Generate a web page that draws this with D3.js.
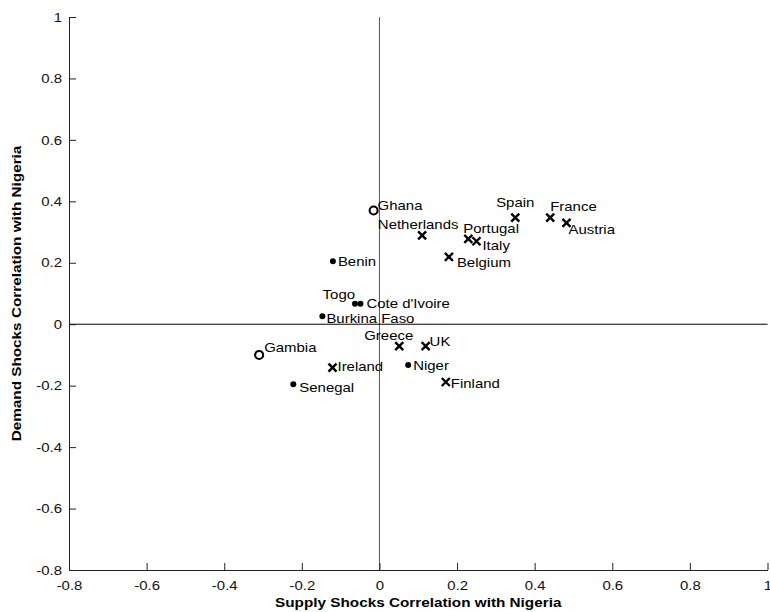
<!DOCTYPE html>
<html>
<head>
<meta charset="utf-8" />
<title>Shock correlations</title>
<script src="https://cdn.jsdelivr.net/npm/d3@7"></script>
<style>
body { margin: 0; background: #fff; }
text { font-family: "Liberation Sans", Arial, sans-serif; fill: #000; }
.tick text { font-size: 13px; fill: #111; }
.axis-title { font-size: 13.3px; font-weight: bold; }
.lbl { font-size: 13px; }
</style>
</head>
<body>
<div id="chart"></div>
<script>
// country names, supply corr (x), demand corr (y), marker type
var countries = ["Ghana", "Gambia", "Benin", "Togo", "Cote d'Ivoire", "Burkina Faso", "Senegal", "Niger",
                 "Netherlands", "Spain", "France", "Austria", "Portugal", "Italy", "Belgium", "Greece", "UK", "Ireland", "Finland"];
var supply = [-0.015, -0.31, -0.12, -0.063, -0.049, -0.147, -0.222, 0.074,
              0.11, 0.35, 0.44, 0.482, 0.229, 0.25, 0.179, 0.051, 0.119, -0.121, 0.171];
var demand = [0.37, -0.10, 0.205, 0.067, 0.067, 0.026, -0.195, -0.133,
              0.289, 0.347, 0.347, 0.33, 0.278, 0.27, 0.219, -0.071, -0.071, -0.141, -0.188];
var markers = ["open", "open", "dot", "dot", "dot", "dot", "dot", "dot",
               "cross", "cross", "cross", "cross", "cross", "cross", "cross", "cross", "cross", "cross", "cross"];
// label placement: dx, dy (px) and anchor
var labelPos = [
  [4, -5, "start"], [5, -7, "start"], [5, 0, "start"], [0, -9, "end"], [6, 0, "start"], [4, 2, "start"], [6, 3, "start"], [5, 0, "start"],
  [-4, -11, "middle"], [0, -15, "middle"], [0, -11, "start"], [2, 7, "start"], [-5, -10, "start"], [6, 4, "start"], [8, 6, "start"],
  [14, -11, "end"], [4, -5, "start"], [5, -1, "start"], [5, 1, "start"]
];

var xTicks = [-0.8, -0.6, -0.4, -0.2, 0, 0.2, 0.4, 0.6, 0.8, 1];
var yTicks = [-0.8, -0.6, -0.4, -0.2, 0, 0.2, 0.4, 0.6, 0.8, 1];

var W = 770, H = 612;
var margin = {top: 17, right: 2, bottom: 42, left: 69};
var stretch = 1.15; // reference glyphs are a bit wide

var svg = d3.select("#chart").append("svg")
  .attr("width", W)
  .attr("height", H);

var x = d3.scaleLinear().domain([-0.8, 1]).range([margin.left, W - margin.right - 0.5]);
var y = d3.scaleLinear().domain([-0.8, 1]).range([H - margin.bottom, margin.top]);

function fmt(d) { return String(+d.toFixed(1)); }

// reference lines through zero
svg.append("line")
  .attr("x1", x(0)).attr("x2", x(0))
  .attr("y1", y(1)).attr("y2", y(-0.8))
  .attr("stroke", "#555").attr("stroke-width", 1);
svg.append("line")
  .attr("x1", x(-0.8)).attr("x2", x(1))
  .attr("y1", y(0)).attr("y2", y(0))
  .attr("stroke", "#000").attr("stroke-width", 1);

// axes, ticks drawn inward
var xAxis = svg.append("g")
  .attr("transform", "translate(0," + y(-0.8) + ")")
  .call(d3.axisBottom(x).tickValues(xTicks).tickFormat(fmt).tickSizeInner(-7).tickSizeOuter(0).tickPadding(10));
var yAxis = svg.append("g")
  .attr("transform", "translate(" + x(-0.8) + ",0)")
  .call(d3.axisLeft(y).tickValues(yTicks).tickFormat(fmt).tickSizeInner(-7).tickSizeOuter(0).tickPadding(7));
[xAxis, yAxis].forEach(function(g) {
  g.select(".domain").attr("stroke", "#222");
  g.selectAll(".tick line").attr("stroke", "#222");
  g.selectAll(".tick text").attr("font-family", null).attr("font-size", null);
});
xAxis.selectAll(".tick text").attr("y", 0).attr("dy", null)
  .attr("transform", "translate(0,19.5) scale(" + stretch + ",1)");
yAxis.selectAll(".tick text").attr("x", 0)
  .attr("transform", "translate(-7,0) scale(" + stretch + ",1)");

svg.append("text")
  .attr("class", "axis-title")
  .attr("transform", "translate(" + (x(-0.8) + x(1)) / 2 + ",607) scale(" + stretch + ",1)")
  .attr("text-anchor", "middle")
  .text("Supply Shocks Correlation with Nigeria");
svg.append("text")
  .attr("class", "axis-title")
  .attr("transform", "translate(21," + (y(-0.8) + y(1)) / 2 + ") rotate(-90) scale(" + stretch + ",1)")
  .attr("text-anchor", "middle")
  .text("Demand Shocks Correlation with Nigeria");

// markers
var pts = svg.append("g");
countries.forEach(function(name, i) {
  var cx = x(supply[i]), cy = y(demand[i]);
  if (markers[i] === "dot") {
    pts.append("circle").attr("cx", cx).attr("cy", cy).attr("r", 3).attr("fill", "#000");
  } else if (markers[i] === "open") {
    pts.append("circle").attr("cx", cx).attr("cy", cy).attr("r", 4)
      .attr("fill", "#fff").attr("stroke", "#000").attr("stroke-width", 2.1);
  } else {
    var s = 4;
    pts.append("path")
      .attr("d", "M" + (cx - s) + "," + (cy - s) + "L" + (cx + s) + "," + (cy + s) +
                 "M" + (cx - s) + "," + (cy + s) + "L" + (cx + s) + "," + (cy - s))
      .attr("stroke", "#000").attr("stroke-width", 2.4).attr("fill", "none");
  }
  var p = labelPos[i];
  pts.append("text")
    .attr("class", "lbl")
    .attr("transform", "translate(" + (cx + p[0]) + "," + (cy + p[1]) + ") scale(" + stretch + ",1)")
    .attr("dy", "0.35em")
    .attr("text-anchor", p[2])
    .text(name);
});
</script>
</body>
</html>
